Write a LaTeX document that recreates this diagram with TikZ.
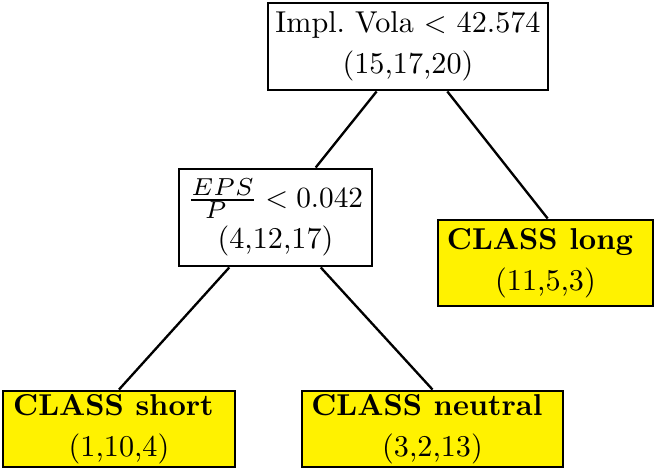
\documentclass[tikz,border=0pt]{standalone}
\usepackage{graphicx}
\usetikzlibrary{calc}
% one drawing unit = one pixel of the finished image
\def\pxu{0.3413pt}
\tikzset{
  treebox/.style 2 args={draw=black, line width=1pt, inner sep=0pt, align=center,
    font=\fontsize{10.3pt}{14pt}\selectfont,
    minimum width={#1*\pxu}, minimum height={#2*\pxu}},
  splitbox/.style 2 args={treebox={#1}{#2}, fill=white},
  leafbox/.style 2 args={treebox={#1}{#2}, fill=yellow},
  branch/.style={draw=black, line width=0.8pt},
}
\newcommand\leafgap{\rule{3.8pt}{0pt}}
\newcommand\fracpart[1]{\scalebox{1.2}{$\scriptstyle #1$}}
\begin{document}
\begin{tikzpicture}[x=\pxu, y=-\pxu]
\useasboundingbox (0,0) rectangle (655,471);

% split nodes
\node[splitbox={280}{87}] (root) at (408,46.5)
  {Impl.\ Vola $<$ 42.574\\(15,17,20)};
\node[splitbox={193}{97}] (eps) at (275.5,217.5)
  {$\frac{\fracpart{EPS}}{\fracpart{P}} < 0.042$\\(4,12,17)};

% leaves
\node[leafbox={215}{86}] (long) at (545.5,263)
  {\textbf{CLASS long}\leafgap\\(11,5,3)};
\node[leafbox={232}{76}] (short) at (119,429)
  {\textbf{CLASS short}\leafgap\\(1,10,4)};
\node[leafbox={261}{76}] (neutral) at (432.5,429)
  {\textbf{CLASS neutral}\leafgap\\(3,2,13)};

% branches
\draw[branch] ($(root.south west)!0.389!(root.south east)$) -- ($(eps.north west)!0.705!(eps.north east)$);
\draw[branch] ($(root.south west)!0.639!(root.south east)$) -- ($(long.north west)!0.51!(long.north east)$);
\draw[branch] ($(eps.south west)!0.264!(eps.south east)$) -- (short.north);
\draw[branch] ($(eps.south west)!0.731!(eps.south east)$) -- (neutral.north);
\end{tikzpicture}
\end{document}
